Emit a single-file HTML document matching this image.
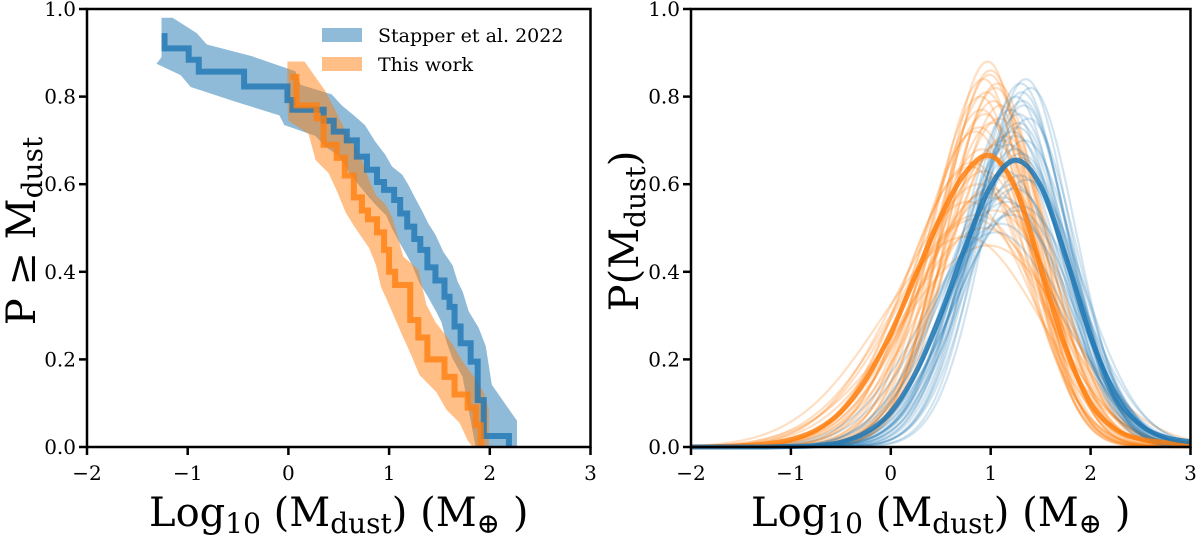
<!DOCTYPE html>
<html><head><meta charset="utf-8"><style>
html,body{margin:0;padding:0;background:#fff;}
svg{display:block;}
text{font-family:"DejaVu Serif","Liberation Serif",serif;fill:#000;}
</style></head><body>
<svg id="chart" width="1200" height="540" viewBox="0 0 1200 540">
<g id="left"></g>
<g id="right"></g>
</svg>
<script>
// ---- Left panel data (cumulative step functions) ----
const blueStartX = -1.23;
const blueStartY = 0.945;
const blueDropX = [-1.23,-0.99,-0.89,-0.44,-0.01,0.04,0.35,0.45,0.58,0.68,0.78,0.88,0.95,1.05,1.11,1.18,1.25,1.31,1.38,1.46,1.55,1.60,1.65,1.71,1.81,1.88,1.94,2.19];
const blueLevels = [0.91,0.884,0.857,0.823,0.792,0.77,0.745,0.72,0.70,0.663,0.633,0.605,0.587,0.564,0.533,0.503,0.475,0.45,0.41,0.38,0.343,0.32,0.275,0.237,0.195,0.107,0.025,0];
const orangeStartX = 0.02;
const orangeStartY = 0.845;
const orangeDropX = [0.08,0.28,0.35,0.48,0.56,0.65,0.73,0.79,0.88,0.95,1.0,1.06,1.21,1.29,1.38,1.55,1.65,1.78,1.86,1.91];
const orangeLevels = [0.78,0.75,0.69,0.66,0.62,0.57,0.54,0.52,0.49,0.45,0.40,0.37,0.29,0.25,0.20,0.16,0.12,0.09,0.05,0.0];
const legendLabels = ["Stapper et al. 2022","This work"];
// ---- Right panel data ----
const gridX = [-2,-1.75,-1.5,-1.25,-1,-0.75,-0.5,-0.25,0,0.25,0.5,0.75,1,1.25,1.5,1.75,2,2.25,2.5,2.75,3];
const orangeMean = [0.0003,0.001,0.003,0.007,0.017,0.038,0.08,0.154,0.26,0.392,0.526,0.627,0.665,0.59,0.411,0.226,0.1,0.04,0.018,0.01,0.006];
const blueMean = [0,0,0,0,0.001,0.003,0.011,0.033,0.08,0.17,0.303,0.46,0.596,0.655,0.596,0.435,0.253,0.118,0.05,0.022,0.012];
const orangePeaks = [0.88,0.86,0.84,0.82,0.80,0.78,0.76,0.74,0.72,0.70,0.68,0.66,0.64,0.62,0.60,0.58,0.56,0.54,0.52,0.50,0.48,0.46,0.83,0.77,0.71,0.65,0.59,0.53,0.85,0.79,0.73,0.69,0.63,0.57,0.81,0.75];
const orangeMus = [0.97,1.0,0.93,1.05,0.9,1.1,0.95,1.02,0.85,1.12,0.92,1.0,0.8,1.08,0.88,0.96,0.78,1.04,0.84,0.94,0.75,0.98,1.07,0.91,1.15,0.82,1.01,0.87,0.99,1.03,0.89,1.06,0.94,1.0,0.96,1.09];
const orangeSL = [0.45,0.47,0.5,0.48,0.52,0.5,0.55,0.56,0.58,0.57,0.6,0.63,0.65,0.64,0.68,0.7,0.74,0.72,0.78,0.8,0.85,0.88,0.5,0.55,0.58,0.65,0.72,0.82,0.47,0.52,0.6,0.56,0.66,0.75,0.5,0.55];
const orangeSR = [0.42,0.43,0.44,0.45,0.46,0.47,0.48,0.49,0.5,0.52,0.53,0.55,0.56,0.58,0.6,0.62,0.64,0.66,0.7,0.72,0.75,0.78,0.44,0.48,0.5,0.55,0.6,0.68,0.43,0.46,0.5,0.52,0.57,0.63,0.45,0.49];
const bluePeaks = [0.84,0.83,0.82,0.80,0.79,0.77,0.75,0.74,0.72,0.70,0.69,0.67,0.65,0.63,0.61,0.59,0.57,0.55,0.53,0.51,0.49,0.78,0.73,0.68,0.62,0.56,0.81,0.76,0.71,0.66,0.6,0.54];
const blueMus = [1.35,1.3,1.4,1.25,1.32,1.2,1.38,1.28,1.22,1.34,1.18,1.3,1.26,1.15,1.36,1.24,1.12,1.3,1.2,1.1,1.05,1.33,1.27,1.24,1.29,1.16,1.31,1.28,1.25,1.3,1.22,1.27];
const blueSL = [0.45,0.47,0.46,0.48,0.5,0.5,0.5,0.52,0.53,0.55,0.55,0.57,0.58,0.6,0.6,0.62,0.64,0.65,0.67,0.7,0.72,0.48,0.52,0.55,0.6,0.66,0.47,0.5,0.54,0.57,0.6,0.63];
const blueSR = [0.44,0.45,0.45,0.46,0.47,0.48,0.48,0.5,0.5,0.52,0.52,0.54,0.55,0.56,0.57,0.58,0.6,0.61,0.63,0.65,0.68,0.46,0.49,0.52,0.56,0.6,0.46,0.48,0.51,0.53,0.55,0.58];
const xTicks = [-2,-1,0,1,2,3];
const yTicks = [0.0,0.2,0.4,0.6,0.8,1.0];

const NS = "http://www.w3.org/2000/svg";
const BLUE = "#1f77b4", ORANGE = "#ff7f0e";
function mk(tag, attrs, parent){const e=document.createElementNS(NS,tag);for(const k in attrs)e.setAttribute(k,attrs[k]);parent.appendChild(e);return e;}
const Y0 = 447, Y1 = 9;
function yS(v){return Y0 + (Y1-Y0)*v;}
const L = {x0:87, x1:590.5};
const R = {x0:691, x1:1190.5};
function xSL(v){return L.x0 + (v+2)/5*(L.x1-L.x0);}
function xSR(v){return R.x0 + (v+2)/5*(R.x1-R.x0);}
const left = document.getElementById('left');
const right = document.getElementById('right');

function stepPath(sx, sy, dx, lv, xs){
  let d = `M${xs(sx)},${yS(sy)}`; let prev = sy;
  for(let i=0;i<dx.length;i++){ d += `L${xs(dx[i])},${yS(prev)}L${xs(dx[i])},${yS(lv[i])}`; prev = lv[i]; }
  return d;
}
function bandPath(sx, sy, dx, lv, xs){
  const ox=0.08, oy=0.035;
  const up=[[sx-0.03, sy+oy]]; let prev=sy;
  for(let i=0;i<dx.length;i++){ up.push([dx[i]+ox, prev+oy]); prev=lv[i]; }
  up.push([dx[dx.length-1]+ox, 0]);
  const lo=[[sx-0.03, Math.max(sy-oy-0.02,0)]];
  for(let i=0;i<dx.length;i++){ lo.push([dx[i]-ox, Math.max(lv[i]-oy,0)]); }
  lo.reverse();
  const pts = up.concat(lo).map(p=>`${xs(p[0])},${yS(Math.min(p[1],1))}`);
  return "M"+pts.join("L")+"Z";
}
function axes(g, xs, x0, x1, namePrefix){
  for(const t of xTicks){
    const tk = mk('line',{x1:xs(t),x2:xs(t),y1:Y0,y2:Y0+8,stroke:'#000','stroke-width':2.5},g);
    
    
    const tl = mk('text',{x:xs(t),y:Y0+33,'text-anchor':'middle','font-size':20,'font-family':'DejaVu Serif, serif'},g);
    tl.textContent = (t<0?'\u2212'+Math.abs(t):String(t));
    
    
  }
  for(const t of yTicks){
    const tk = mk('line',{x1:x0-8,x2:x0,y1:yS(t),y2:yS(t),stroke:'#000','stroke-width':2.5},g);
    
    
    const tl = mk('text',{x:x0-11,y:yS(t)+7,'text-anchor':'end','font-size':20,'font-family':'DejaVu Serif, serif'},g);
    tl.textContent = t.toFixed(1);
    
    
  }
  const fr = mk('rect',{x:x0,y:Y1,width:x1-x0,height:Y0-Y1,fill:'none',stroke:'#000','stroke-width':2.5},g);
  
  
  const xl = mk('text',{x:(x0+x1)/2,y:526,'text-anchor':'middle','font-size':40},g);
  xl.innerHTML = 'Log<tspan font-size="28" dy="7">10</tspan><tspan dy="-7"> (M</tspan><tspan font-size="28" dy="7">dust</tspan><tspan dy="-7">) (M</tspan><tspan font-size="28" dy="7">\u2295</tspan><tspan dy="-7"> )</tspan>';
  
  
}

// Left panel
const bb = mk('path',{d:bandPath(blueStartX,blueStartY,blueDropX,blueLevels,xSL),fill:BLUE,'fill-opacity':0.5},left);


const ob = mk('path',{d:bandPath(orangeStartX,orangeStartY,orangeDropX,orangeLevels,xSL),fill:ORANGE,'fill-opacity':0.5},left);


const bl = mk('path',{d:stepPath(blueStartX,blueStartY,blueDropX,blueLevels,xSL),fill:'none',stroke:BLUE,'stroke-width':6,'stroke-opacity':0.8},left);


const ol = mk('path',{d:stepPath(orangeStartX,orangeStartY,orangeDropX,orangeLevels,xSL),fill:'none',stroke:ORANGE,'stroke-width':6,'stroke-opacity':0.8},left);


axes(left, xSL, L.x0, L.x1, 'left');
const yl1 = mk('text',{x:0,y:0,'text-anchor':'middle','font-size':40,transform:'translate(35,231) rotate(-90)'},left);
yl1.innerHTML = 'P \u2265 M<tspan font-size="28" dy="7">dust</tspan>';


const legendColors=[BLUE,ORANGE];
for(let i=0;i<2;i++){
  const lr = mk('rect',{x:322,y:28+i*29,width:40,height:14,fill:legendColors[i],'fill-opacity':0.5},left);
  
  
  const lt = mk('text',{x:378,y:42+i*29,'font-size':19},left);
  lt.textContent = legendLabels[i];
  
  
}

// Right panel
function smooth(xs, ys, sx){
  const p = xs.map((x,i)=>[sx(x), yS(ys[i])]);
  let d = `M${p[0][0]},${p[0][1]}`;
  for(let i=0;i<p.length-1;i++){
    const p0=p[Math.max(i-1,0)], p1=p[i], p2=p[i+1], p3=p[Math.min(i+2,p.length-1)];
    const c1=[p1[0]+(p2[0]-p0[0])/6, p1[1]+(p2[1]-p0[1])/6];
    const c2=[p2[0]-(p3[0]-p1[0])/6, p2[1]-(p3[1]-p1[1])/6];
    d += `C${c1[0]},${c1[1]} ${c2[0]},${c2[1]} ${p2[0]},${p2[1]}`;
  }
  return d;
}
function sampleCurve(A, mu, sl, sr){
  let d=''; 
  for(let k=0;k<=200;k++){
    const x=-2+5*k/200; const s = x<mu?sl:sr;
    const y=A*Math.exp(-(x-mu)*(x-mu)/(2*s*s));
    d += (k?'L':'M')+xSR(x).toFixed(1)+','+yS(y).toFixed(1);
  }
  return d;
}
for(let i=0;i<orangePeaks.length;i++){
  const c = mk('path',{d:sampleCurve(orangePeaks[i],orangeMus[i],orangeSL[i],orangeSR[i]),fill:'none',stroke:ORANGE,'stroke-width':2.2,'stroke-opacity':0.25},right);
  
  
}
for(let i=0;i<bluePeaks.length;i++){
  const c = mk('path',{d:sampleCurve(bluePeaks[i],blueMus[i],blueSL[i],blueSR[i]),fill:'none',stroke:BLUE,'stroke-width':2.2,'stroke-opacity':0.2},right);
  
  
}
const om = mk('path',{d:smooth(gridX,orangeMean,xSR),fill:'none',stroke:ORANGE,'stroke-width':5,'stroke-opacity':0.85},right);


const bm = mk('path',{d:smooth(gridX,blueMean,xSR),fill:'none',stroke:BLUE,'stroke-width':5,'stroke-opacity':0.85},right);


axes(right, xSR, R.x0, R.x1, 'right');
const yl2 = mk('text',{x:0,y:0,'text-anchor':'middle','font-size':40,transform:'translate(638,231) rotate(-90)'},right);
yl2.innerHTML = 'P(M<tspan font-size="28" dy="7">dust</tspan><tspan dy="-7">)</tspan>';


</script>
</body></html>
